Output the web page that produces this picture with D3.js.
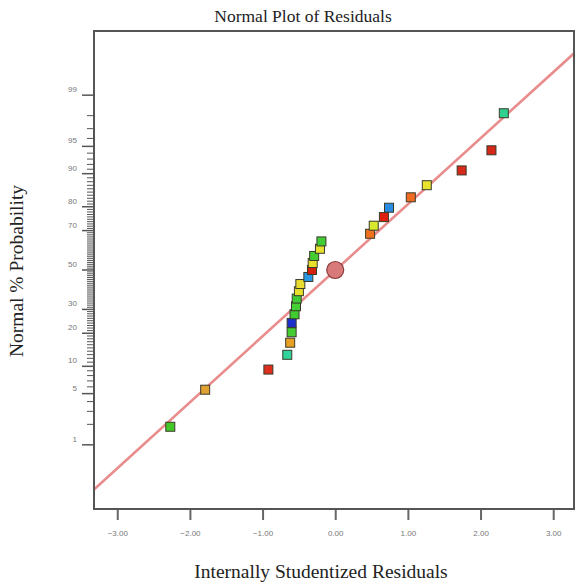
<!DOCTYPE html>
<html><head><meta charset="utf-8">
<script src="https://cdn.jsdelivr.net/npm/d3@7"></script>
<style>body{margin:0;background:#fff}svg{display:block}</style>
</head><body>
<script>
// ---- data ----
const residuals = [-2.27, -1.79, -0.92, -0.66, -0.62, -0.60, -0.60, -0.56, -0.54, -0.53, -0.50, -0.48, -0.37, -0.32, -0.31, -0.29, -0.21, -0.19, 0.48, 0.53, 0.67, 0.74, 1.04, 1.26, 1.74, 2.15, 2.32];
const probabilities = [1.85, 5.56, 9.26, 12.96, 16.67, 20.37, 24.07, 27.78, 31.48, 35.19, 38.89, 42.59, 46.30, 50.00, 53.70, 57.41, 61.11, 64.81, 68.52, 72.22, 75.93, 79.63, 83.33, 87.04, 90.74, 94.44, 98.15];
const pointColors = ["#44c828","#e0a032","#de2e1c","#30d49c","#e8a024","#44cc30","#1c30cc","#40cc30","#44d034","#40cc34","#e6e02c","#e8dc30","#2a98e4","#d6200e","#e8e02c","#44cc30","#e6e030","#40cc34","#f07020","#d8e82c","#e0200e","#2a8ce0","#f06a20","#e8e42c","#d8281a","#d42818","#30d090"];
const lineResiduals = [-3.32, 3.30];
const lineProbabilities = [0.175, 99.81];
const highlight = {residual: 0.0, probability: 50};
const yTickLabels = [1, 5, 10, 20, 30, 50, 70, 80, 90, 95, 99];
const yMinorTicks = d3.range(1, 100);
const xTickValues = [-3, -2, -1, 0, 1, 2, 3];

// inverse standard normal CDF (Acklam)
function probit(p){
  const a=[-3.969683028665376e+01,2.209460984245205e+02,-2.759285104469687e+02,1.383577518672690e+02,-3.066479806614716e+01,2.506628277459239e+00];
  const b=[-5.447609879822406e+01,1.615858368580409e+02,-1.556989798598866e+02,6.680131188771972e+01,-1.328068155288572e+01];
  const c=[-7.784894002430293e-03,-3.223964580411365e-01,-2.400758277161838e+00,-2.549732539343734e+00,4.374664141464968e+00,2.938163982698783e+00];
  const d=[7.784695709041462e-03,3.224671290700398e-01,2.445134137142996e+00,3.754408661907416e+00];
  const pl=0.02425, ph=1-pl; let q,r;
  if(p<pl){q=Math.sqrt(-2*Math.log(p));return (((((c[0]*q+c[1])*q+c[2])*q+c[3])*q+c[4])*q+c[5])/((((d[0]*q+d[1])*q+d[2])*q+d[3])*q+1);}
  if(p<=ph){q=p-0.5;r=q*q;return (((((a[0]*r+a[1])*r+a[2])*r+a[3])*r+a[4])*r+a[5])*q/(((((b[0]*r+b[1])*r+b[2])*r+b[3])*r+b[4])*r+1);}
  q=Math.sqrt(-2*Math.log(1-p));return -(((((c[0]*q+c[1])*q+c[2])*q+c[3])*q+c[4])*q+c[5])/((((d[0]*q+d[1])*q+d[2])*q+d[3])*q+1);
}

const W=575,H=585;
const L=94,R=574,T=31,B=509;
const svg=d3.select("body").append("svg").attr("width",W).attr("height",H);

const x=d3.scaleLinear().domain([-3.32,3.30]).range([L,R+1]);
const yz=d3.scaleLinear().domain([-3.18,3.18]).range([B,T]);
const y=p=>yz(probit(p/100));

svg.append("defs").append("clipPath").attr("id","clip")
  .append("rect").attr("x",L).attr("y",T).attr("width",R-L).attr("height",B-T);

// fitted line
const lineData=lineResiduals.map((r,i)=>({r,p:lineProbabilities[i]}));
svg.append("path").attr("clip-path","url(#clip)")
  .attr("d",d3.line().x(d=>x(d.r)).y(d=>y(d.p))(lineData))
  .attr("stroke","#e88c8c").attr("stroke-width",2.6).attr("fill","none");

// highlight circle
svg.append("circle").attr("cx",x(highlight.residual)).attr("cy",y(highlight.probability))
  .attr("r",8.5).attr("fill","#d87a7a").attr("stroke","#8c3c3c").attr("stroke-width",1.2);

// points
const pts=residuals.map((r,i)=>({r,p:probabilities[i],c:pointColors[i]}));
const s=9;
svg.append("g").selectAll("rect").data(pts).join("rect")
  .attr("x",d=>x(d.r)-s/2).attr("y",d=>y(d.p)-s/2)
  .attr("width",s).attr("height",s)
  .attr("fill",d=>d.c).attr("stroke","#3a3a2a").attr("stroke-width",1);

// frame
svg.append("rect").attr("x",L).attr("y",T).attr("width",R-L).attr("height",B-T)
  .attr("fill","none").attr("stroke","#555").attr("stroke-width",2);

// x axis
const gx=svg.append("g").attr("transform",`translate(0,${B+1})`)
  .call(d3.axisBottom(x).tickValues(xTickValues).tickSize(10).tickPadding(10).tickFormat(d3.format(".2f")));
gx.select(".domain").remove();
gx.selectAll("line").attr("stroke","#666").attr("stroke-width",2);
gx.selectAll("text").attr("font-family","Liberation Sans, Arial, sans-serif").attr("font-size",8).attr("fill","#777");

// y axis minor + major
const gy=svg.append("g").attr("transform",`translate(${L-1},0)`);
gy.selectAll("line.minor").data(yMinorTicks.filter(v=>!yTickLabels.includes(v))).join("line")
  .attr("class","minor").attr("x1",-6).attr("x2",0).attr("y1",d=>y(d)).attr("y2",d=>y(d))
  .attr("stroke","#555").attr("stroke-width",1);
gy.selectAll("line.major").data(yTickLabels).join("line")
  .attr("class","major").attr("x1",-11).attr("x2",0).attr("y1",d=>y(d)).attr("y2",d=>y(d))
  .attr("stroke","#555").attr("stroke-width",1.5);
gy.selectAll("text").data(yTickLabels).join("text")
  .attr("x",-16).attr("y",d=>y(d)-3).attr("text-anchor","end")
  .attr("font-family","Liberation Sans, Arial, sans-serif").attr("font-size",8).attr("fill","#777")
  .text(d=>d);

// titles
svg.append("text").attr("x",303).attr("y",22).attr("text-anchor","middle")
  .attr("font-family","Liberation Serif, Times New Roman, serif").attr("font-size",17.5).attr("fill","#222")
  .text("Normal Plot of Residuals");
svg.append("text").attr("x",321).attr("y",578).attr("text-anchor","middle")
  .attr("font-family","Liberation Serif, Times New Roman, serif").attr("font-size",19.5).attr("fill","#222")
  .text("Internally Studentized Residuals");
svg.append("text").attr("transform","translate(23,271) rotate(-90)").attr("text-anchor","middle")
  .attr("font-family","Liberation Serif, Times New Roman, serif").attr("font-size",19.5).attr("fill","#222")
  .text("Normal % Probability");
</script>
</body></html>
